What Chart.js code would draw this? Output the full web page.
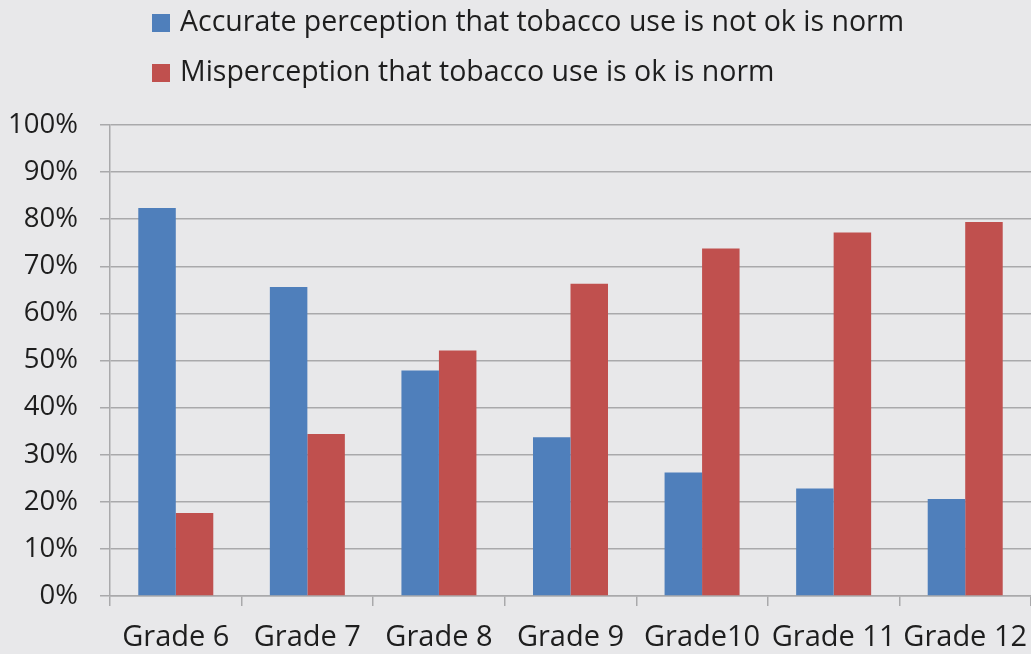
<!DOCTYPE html>
<html>
<head>
<meta charset="utf-8">
<script src="https://cdn.jsdelivr.net/npm/chart.js@4.4.1/dist/chart.umd.min.js"></script>
<style>
  html, body { margin: 0; padding: 0; background: #e8e8ea; }
  #wrap { width: 1031px; height: 654px; position: relative; }
</style>
</head>
<body>
<div id="wrap"><canvas id="chart"></canvas></div>
<script>
const grades = ['Grade 6', 'Grade 7', 'Grade 8', 'Grade 9', 'Grade10', 'Grade 11', 'Grade 12'];
const accurateNotOk = [82.4, 65.6, 47.9, 33.7, 26.2, 22.8, 20.6];
const misperceptionOk = [17.6, 34.4, 52.1, 66.3, 73.8, 77.2, 79.4];
const seriesLabels = [
  'Accurate perception that tobacco use is not ok is norm',
  'Misperception that tobacco use is ok is norm'
];
const yTicks = [0, 10, 20, 30, 40, 50, 60, 70, 80, 90, 100];

const FONT = '"Open Sans", "Noto Sans", sans-serif';
const TEXT = '#1e1e1e';
const GRID = '#a9a9ab';

// Legend stacked in two left-aligned rows above the plot
const stackedLegend = {
  id: 'stackedLegend',
  afterDraw(chart) {
    const ctx = chart.ctx;
    ctx.save();
    ctx.font = '28.5px ' + FONT;
    ctx.textBaseline = 'middle';
    ctx.textAlign = 'left';
    chart.data.datasets.forEach((ds, i) => {
      const cy = 23 + i * 50;
      ctx.fillStyle = ds.backgroundColor;
      ctx.fillRect(152, cy - 9, 18, 18);
      ctx.fillStyle = TEXT;
      ctx.fillText(ds.label, 180, cy);
    });
    ctx.restore();
  }
};

new Chart(document.getElementById('chart'), {
  type: 'bar',
  data: {
    labels: grades,
    datasets: [
      { label: seriesLabels[0], data: accurateNotOk, backgroundColor: '#4f7fbb' },
      { label: seriesLabels[1], data: misperceptionOk, backgroundColor: '#c0504e' }
    ]
  },
  options: {
    responsive: true,
    maintainAspectRatio: false,
    animation: false,
    layout: { padding: { top: 125, right: 0, left: 0, bottom: 0 } },
    datasets: { bar: { categoryPercentage: 0.57, barPercentage: 1.0 } },
    plugins: {
      legend: { display: false },
      tooltip: { enabled: false }
    },
    scales: {
      x: {
        grid: { display: true, drawOnChartArea: false, drawTicks: true, tickLength: 10, color: GRID, lineWidth: 1.5, offset: true },
        border: { display: true, color: GRID, width: 1.5 },
        ticks: { color: TEXT, font: { family: FONT, size: 29 }, padding: 14, maxRotation: 0, autoSkip: false },
        afterFit(scale) {
          scale.height = 58;
          // plot runs to the right edge; labels fit inside their categories
          scale.paddingLeft = 0;
          scale.paddingRight = 0;
        }
      },
      y: {
        min: 0,
        max: 100,
        afterBuildTicks(scale) { scale.ticks = yTicks.map(v => ({ value: v })); },
        grid: { color: GRID, lineWidth: 1.5, tickLength: 10 },
        border: { display: true, color: GRID, width: 1.5 },
        ticks: { color: TEXT, font: { family: FONT, size: 27.5 }, padding: 22, callback: v => v + '%' },
        afterFit(scale) { scale.width = 110; }
      }
    }
  },
  plugins: [stackedLegend]
});
</script>
</body>
</html>
